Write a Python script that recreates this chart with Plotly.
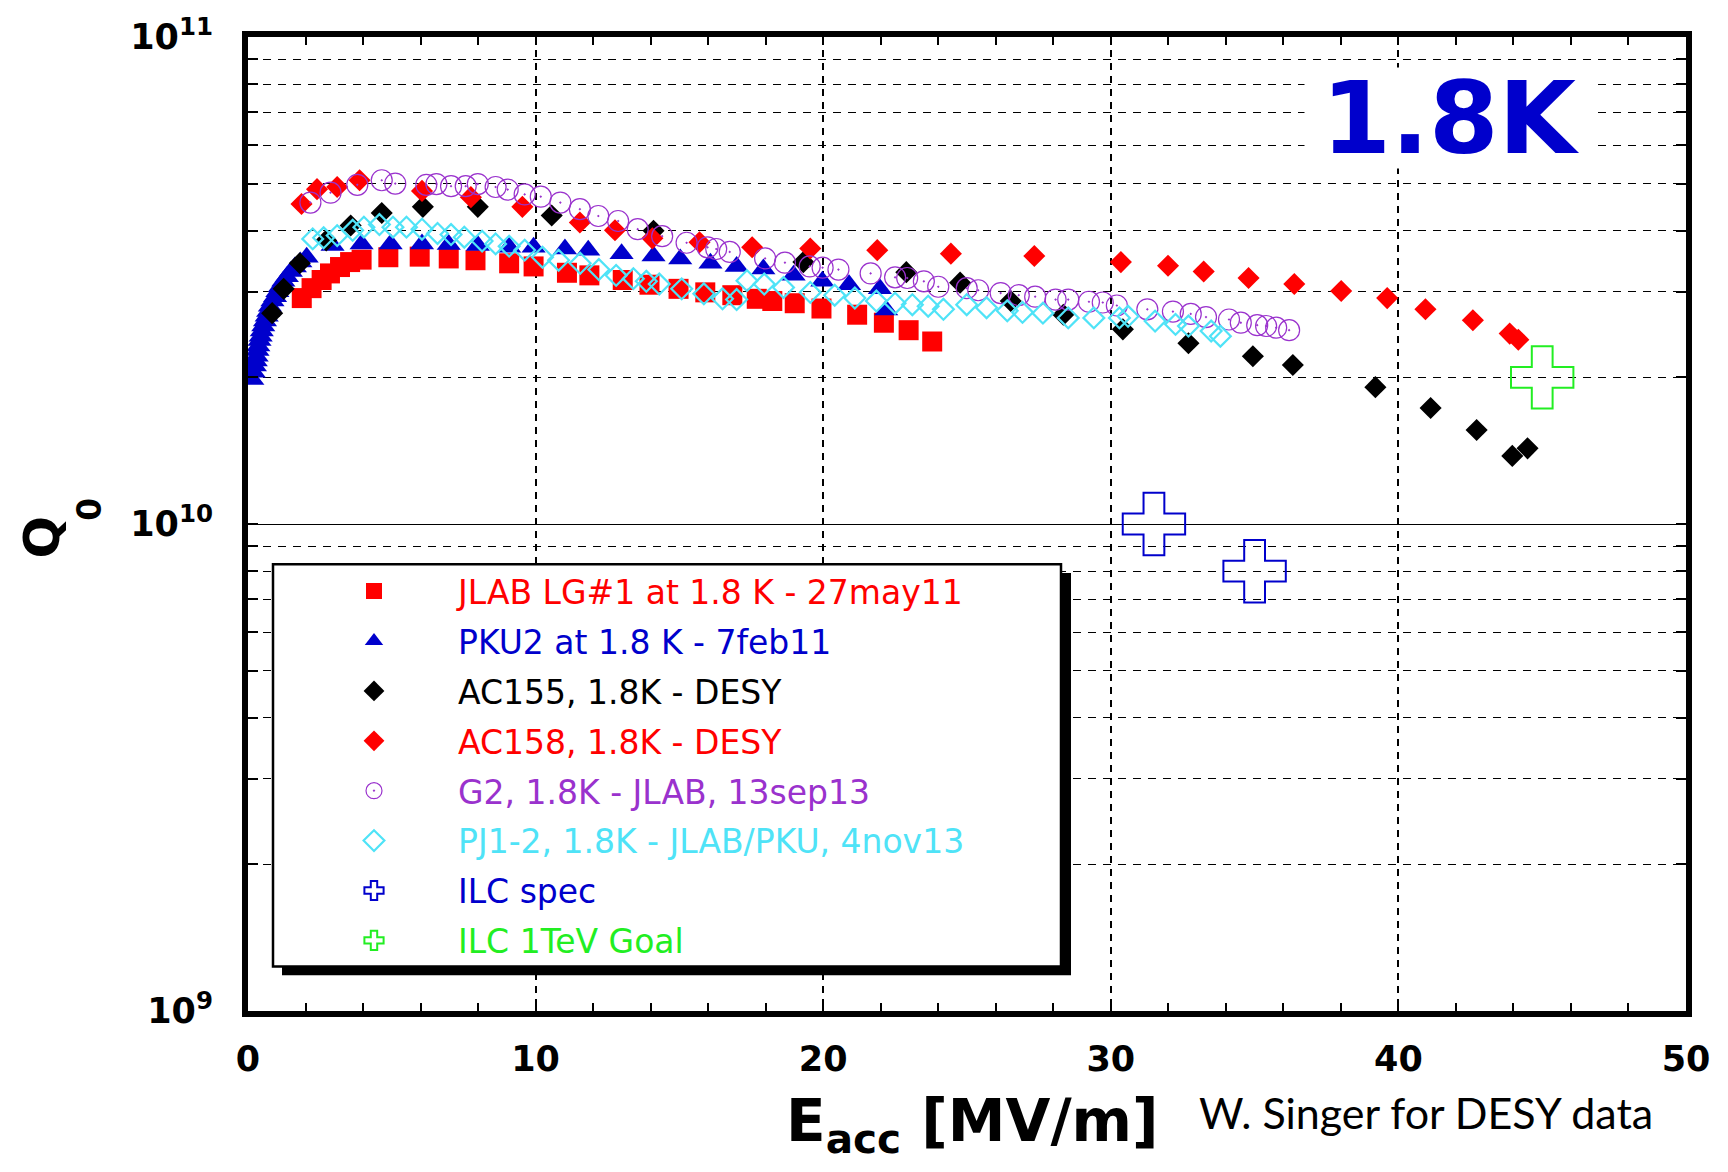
import plotly.graph_objects as go

# ---------------- data (E_acc in MV/m, Q0) ----------------
jlab_E = [1.87, 2.21, 2.56, 2.85, 3.20, 3.55, 3.95, 4.88, 5.97, 6.98, 7.91, 9.08, 9.93,
          11.09, 11.87, 13.03, 13.96, 14.97, 15.90, 16.84, 17.69, 18.23, 19.01, 19.94,
          21.18, 22.11, 22.97, 23.79]
jlab_Q = [2.91e10, 3.05e10, 3.17e10, 3.27e10, 3.37e10, 3.45e10, 3.49e10, 3.53e10, 3.54e10,
          3.51e10, 3.48e10, 3.43e10, 3.38e10, 3.28e10, 3.24e10, 3.17e10, 3.10e10, 3.04e10,
          2.99e10, 2.95e10, 2.90e10, 2.87e10, 2.84e10, 2.77e10, 2.69e10, 2.59e10, 2.50e10,
          2.37e10]

pku_E = [0.15, 0.20, 0.24, 0.27, 0.30, 0.33, 0.36, 0.40, 0.44, 0.48, 0.53, 0.59, 0.65, 0.70,
         0.76, 0.85, 0.94, 1.02, 1.11, 1.23, 1.35, 1.49, 1.63, 1.82, 2.04, 2.94, 3.95, 4.96,
         6.05, 6.98, 7.99, 9.08, 9.93, 11.02, 11.83, 12.99, 14.10, 15.03, 16.08, 16.99, 17.92,
         18.97, 19.97, 20.90, 21.97, 22.19]
pku_Q = [1.98e10, 2.05e10, 2.11e10, 2.16e10, 2.21e10, 2.27e10, 2.32e10, 2.38e10, 2.43e10,
         2.49e10, 2.55e10, 2.61e10, 2.67e10, 2.73e10, 2.80e10, 2.87e10, 2.93e10, 3.00e10,
         3.07e10, 3.15e10, 3.22e10, 3.30e10, 3.37e10, 3.45e10, 3.53e10, 3.73e10, 3.76e10,
         3.76e10, 3.76e10, 3.75e10, 3.73e10, 3.70e10, 3.70e10, 3.67e10, 3.65e10, 3.59e10,
         3.55e10, 3.50e10, 3.43e10, 3.38e10, 3.34e10, 3.24e10, 3.15e10, 3.10e10, 3.04e10,
         2.75e10]

ac155_E = [0.84, 1.24, 1.80, 2.72, 3.57, 4.65, 6.08, 7.99, 10.56, 14.10, 19.31, 22.89, 24.76,
           26.52, 28.35, 30.42, 32.70, 34.94, 36.33, 39.20, 41.12, 42.72, 43.96, 44.49]
ac155_Q = [2.71e10, 3.04e10, 3.43e10, 3.82e10, 4.10e10, 4.35e10, 4.48e10, 4.48e10, 4.30e10,
           4.00e10, 3.45e10, 3.29e10, 3.13e10, 2.87e10, 2.69e10, 2.51e10, 2.35e10, 2.21e10,
           2.12e10, 1.91e10, 1.73e10, 1.56e10, 1.38e10, 1.43e10]

ac158_E = [1.86, 2.40, 3.10, 3.88, 6.05, 7.75, 9.54, 11.54, 12.76, 14.06, 15.70, 17.53, 19.55,
           21.88, 24.44, 27.34, 30.35, 31.99, 33.23, 34.79, 36.38, 38.01, 39.61, 40.94, 42.59,
           43.87, 44.17]
ac158_Q = [4.54e10, 4.87e10, 4.92e10, 5.08e10, 4.83e10, 4.69e10, 4.48e10, 4.16e10, 4.01e10,
           3.86e10, 3.79e10, 3.70e10, 3.68e10, 3.65e10, 3.59e10, 3.55e10, 3.45e10, 3.39e10,
           3.30e10, 3.20e10, 3.11e10, 3.01e10, 2.91e10, 2.76e10, 2.62e10, 2.46e10, 2.39e10]

g2_E = [2.17, 2.87, 3.80, 4.65, 5.12, 6.20, 6.55, 7.06, 7.57, 7.99, 8.61, 9.03, 9.62, 10.18,
        10.86, 11.54, 12.18, 12.87, 13.55, 14.40, 15.25, 15.98, 16.28, 16.75, 17.98, 18.67,
        19.53, 19.98, 20.53, 21.65, 22.50, 22.92, 23.50, 24.00, 24.99, 25.39, 26.17, 26.80,
        27.37, 28.08, 28.52, 29.24, 29.72, 30.21, 31.27, 32.16, 32.78, 33.31, 34.11, 34.52,
        35.09, 35.40, 35.75, 36.20]
g2_Q = [4.57e10, 4.79e10, 4.97e10, 5.08e10, 5.00e10, 4.97e10, 4.99e10, 4.94e10, 4.94e10,
        4.99e10, 4.92e10, 4.86e10, 4.75e10, 4.70e10, 4.57e10, 4.43e10, 4.29e10, 4.19e10,
        4.03e10, 3.90e10, 3.78e10, 3.70e10, 3.67e10, 3.62e10, 3.51e10, 3.44e10, 3.38e10,
        3.36e10, 3.33e10, 3.27e10, 3.21e10, 3.20e10, 3.15e10, 3.07e10, 3.05e10, 3.02e10,
        2.98e10, 2.95e10, 2.93e10, 2.89e10, 2.89e10, 2.86e10, 2.85e10, 2.81e10, 2.76e10,
        2.73e10, 2.70e10, 2.66e10, 2.63e10, 2.59e10, 2.56e10, 2.55e10, 2.53e10, 2.50e10]

pj_E = [2.25, 2.63, 3.10, 3.64, 4.03, 4.57, 5.04, 5.51, 6.05, 6.59, 7.06, 7.52, 8.14, 8.61,
        9.08, 9.62, 10.24, 10.80, 11.55, 12.20, 12.80, 13.40, 13.85, 14.30, 15.08, 15.85,
        16.50, 16.99, 17.35, 17.95, 18.62, 19.55, 20.40, 21.10, 21.85, 22.50, 23.10, 23.65,
        24.18, 24.99, 25.68, 26.40, 26.93, 27.64, 28.52, 29.41, 30.30, 30.60, 31.54, 32.25,
        32.70, 33.49, 33.81]
pj_Q = [3.85e10, 3.87e10, 3.91e10, 4.01e10, 4.07e10, 4.12e10, 4.07e10, 4.07e10, 4.03e10,
        3.95e10, 3.93e10, 3.88e10, 3.81e10, 3.76e10, 3.72e10, 3.65e10, 3.53e10, 3.48e10,
        3.43e10, 3.33e10, 3.24e10, 3.19e10, 3.15e10, 3.11e10, 3.04e10, 2.97e10, 2.90e10,
        2.89e10, 3.16e10, 3.11e10, 3.06e10, 2.99e10, 2.95e10, 2.91e10, 2.87e10, 2.84e10,
        2.82e10, 2.80e10, 2.76e10, 2.82e10, 2.78e10, 2.74e10, 2.72e10, 2.71e10, 2.65e10,
        2.65e10, 2.65e10, 2.67e10, 2.61e10, 2.57e10, 2.55e10, 2.49e10, 2.43e10]

ilc_spec_E = [31.5, 35.0]
ilc_spec_Q = [1.0e10, 8.0e9]
ilc_goal_E = [45.0]
ilc_goal_Q = [2.0e10]

x_ticks = [0, 10, 20, 30, 40, 50]
y_ticks = [1e9, 1e10, 1e11]
y_ticktext = ["10<sup>9</sup>", "10<sup>10</sup>", "10<sup>11</sup>"]
y_minor = [2e9, 3e9, 4e9, 5e9, 6e9, 7e9, 8e9, 9e9,
           2e10, 3e10, 4e10, 5e10, 6e10, 7e10, 8e10, 9e10]

RED = "#ff0000"
BLUE = "#0000cc"
BLACK = "#000000"
PURPLE = "#9a32cd"
CYAN = "#4fe3f7"
GREEN = "#22ee22"

series = [
    ("JLAB LG#1 at 1.8 K - 27may11", jlab_E, jlab_Q, RED,
     dict(symbol="square", size=20, color=RED)),
    ("PKU2 at 1.8 K - 7feb11", pku_E, pku_Q, BLUE,
     dict(symbol="triangle-up", size=21, color=BLUE)),
    ("AC155, 1.8K - DESY", ac155_E, ac155_Q, BLACK,
     dict(symbol="diamond", size=17, color=BLACK)),
    ("AC158, 1.8K - DESY", ac158_E, ac158_Q, RED,
     dict(symbol="diamond", size=17, color=RED)),
    ("G2, 1.8K - JLAB, 13sep13", g2_E, g2_Q, PURPLE,
     dict(symbol="circle-open-dot", size=21, color=PURPLE, line=dict(width=1.2, color=PURPLE))),
    ("PJ1-2, 1.8K - JLAB/PKU, 4nov13", pj_E, pj_Q, CYAN,
     dict(symbol="diamond-open", size=16, color=CYAN, line=dict(width=2.2, color=CYAN))),
    ("ILC spec", ilc_spec_E, ilc_spec_Q, BLUE,
     dict(symbol="cross-open", size=52, color=BLUE, line=dict(width=2, color=BLUE))),
    ("ILC 1TeV Goal", ilc_goal_E, ilc_goal_Q, GREEN,
     dict(symbol="cross-open", size=52, color=GREEN, line=dict(width=2, color=GREEN))),
]

fig = go.Figure()
for i, (name, xs, ys, col, mk) in enumerate(series):
    fig.add_trace(go.Scatter(
        x=xs, y=ys, mode="markers", marker=mk,
        name=f"<span style='color:{col}'>{name}</span>",
        legendgroup=f"g{i}", hoverinfo="x+y",
    ))

W, H = 1728, 1172
L, R, T, B = 248, 42, 28, 161
PW, PH = W - L - R, H - T - B


def px_x(px):
    return (px - L) / PW


def px_y(py):
    return 1 - (py - T) / PH


BOLD = dict(family="DejaVu Sans", weight="bold", color="black")

fig.update_layout(
    width=W, height=H, autosize=False,
    margin=dict(l=L, r=R, t=T, b=B, pad=0),
    paper_bgcolor="white", plot_bgcolor="white",
    showlegend=True,
    legend=dict(
        x=px_x(290), y=px_y(559), xanchor="left", yanchor="top",
        bgcolor="rgba(0,0,0,0)", borderwidth=0,
        font=dict(family="DejaVu Sans", size=33, color="black"),
        itemwidth=158, tracegroupgap=4, traceorder="grouped",
        itemclick=False, itemdoubleclick=False,
    ),
    xaxis=dict(
        range=[0, 50], tickmode="array", tickvals=x_ticks,
        ticks="inside", ticklen=8, tickwidth=1.5, tickcolor="black",
        showline=True, linewidth=6, linecolor="black", mirror="allticks",
        showgrid=True, gridcolor="black", gridwidth=1.5, griddash="7px,6px",
        zeroline=False,
        tickfont=dict(size=35, **BOLD), ticklabelstandoff=12,
        minor=dict(tick0=0, dtick=2, ticks="inside", ticklen=8, tickwidth=1.5,
                   tickcolor="black", showgrid=False),
    ),
    yaxis=dict(
        type="log", range=[9, 11], tickmode="array", tickvals=y_ticks, ticktext=y_ticktext,
        ticks="inside", ticklen=10, tickwidth=1.5, tickcolor="black",
        showline=True, linewidth=6, linecolor="black", mirror="allticks",
        showgrid=True, gridcolor="black", gridwidth=1.3,
        zeroline=False,
        tickfont=dict(size=35, **BOLD), ticklabelstandoff=22,
        minor=dict(tickmode="array", tickvals=y_minor, ticks="inside", ticklen=10,
                   tickwidth=1.5, tickcolor="black", showgrid=True, gridcolor="black",
                   gridwidth=1.3, griddash="8px,7px"),
    ),
    shapes=[
        dict(type="rect", xref="paper", yref="paper", layer="above",
             x0=px_x(282), x1=px_x(1071), y0=px_y(975), y1=px_y(569),
             fillcolor="black", line=dict(width=0)),
        dict(type="rect", xref="paper", yref="paper", layer="above",
             x0=px_x(273), x1=px_x(1061), y0=px_y(966), y1=px_y(560),
             fillcolor="white", line=dict(width=2.5, color="black")),
    ],
    annotations=[
        dict(text="1.8K", xref="paper", yref="paper", x=px_x(1450), y=px_y(110),
             xanchor="center", yanchor="middle", showarrow=False,
             font=dict(family="DejaVu Sans", weight="bold", size=100, color=BLUE),
             bgcolor="white", width=291, height=100, borderpad=0),
        dict(text="E<sub>acc</sub> [MV/m]", xref="paper", yref="paper",
             x=px_x(784), y=px_y(1086), xanchor="left", yanchor="top", showarrow=False,
             font=dict(size=58, **BOLD)),
        dict(text="Q", xref="paper", yref="paper", textangle=-90,
             x=px_x(42), y=px_y(533), xanchor="center", yanchor="middle", showarrow=False,
             font=dict(size=50, **BOLD)),
        dict(text="0", xref="paper", yref="paper", textangle=-90,
             x=px_x(90), y=px_y(505), xanchor="center", yanchor="middle", showarrow=False,
             font=dict(size=33, **BOLD)),
        dict(text="W. Singer for DESY data", xref="paper", yref="paper",
             x=px_x(1197), y=px_y(1086), xanchor="left", yanchor="top", showarrow=False,
             font=dict(family="Lato, Liberation Sans", size=43, color="black")),
    ],
)

fig.write_html("out.html",
               config={"displayModeBar": False},
               post_script="document.body.style.margin='0px';document.body.style.overflow='hidden';")
